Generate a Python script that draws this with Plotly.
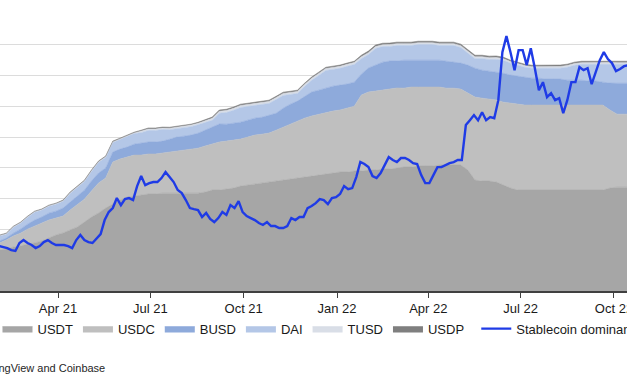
import pandas as pd
import plotly.graph_objects as go

# ---------------- data ----------------
area_start = "2021-02-02"   # weekly observations
line_start = "2021-02-02"   # every 4 days

usdt = [26.6, 27.3, 28.6, 29.2, 30.5, 31.2, 32.5, 34.4, 36.4, 37.7,
        39.6, 41.6, 44.8, 48.1, 50.7, 53.9, 56.5, 59.1, 61.0, 61.7,
        62.3, 63.0, 63.0, 63.6, 63.6, 63.6, 63.6, 63.6, 63.6, 64.3,
        65.6, 65.6, 66.2, 66.9, 68.2, 68.8, 69.5, 70.1, 70.8, 71.4,
        72.1, 72.7, 73.4, 74.0, 74.7, 75.3, 76.0, 76.6, 77.3, 77.3,
        77.9, 77.9, 78.6, 78.6, 79.2, 79.2, 79.9, 80.5, 80.5, 81.2,
        81.2, 81.2, 81.8, 81.8, 81.8, 81.8, 78.6, 72.1, 71.4, 71.4,
        70.8, 68.8, 66.9, 65.6, 65.6, 65.6, 65.6, 65.6, 65.6, 65.6,
        65.6, 65.6, 65.6, 65.6, 65.6, 65.6, 66.9, 67.5, 67.5, 67.5]

usdc = [4.5, 5.8, 7.1, 8.4, 9.7, 11.0, 11.7, 11.7, 11.0, 11.0,
        13.0, 14.3, 14.9, 16.9, 19.5, 19.5, 27.3, 26.6, 26.0, 26.6,
        26.0, 26.0, 26.0, 26.0, 26.6, 27.3, 27.9, 28.6, 29.2, 29.9,
        29.9, 31.2, 31.2, 31.2, 30.5, 31.2, 31.8, 31.8, 31.8, 33.1,
        34.4, 35.7, 37.0, 38.3, 39.0, 39.6, 39.6, 40.3, 40.3, 41.6,
        42.2, 49.4, 50.7, 51.3, 51.3, 52.0, 52.0, 51.3, 52.0, 51.3,
        51.3, 51.3, 50.7, 50.0, 50.0, 49.4, 50.0, 53.9, 53.9, 53.3,
        53.3, 53.9, 55.2, 55.8, 55.2, 55.2, 55.2, 55.2, 55.2, 55.2,
        55.2, 55.2, 55.2, 55.2, 55.2, 55.2, 50.7, 47.4, 47.4, 47.4]

busd = [1.3, 1.3, 1.9, 2.6, 3.2, 3.9, 3.9, 4.5, 4.5, 5.2,
        5.2, 5.8, 5.8, 6.5, 6.5, 6.5, 6.5, 6.5, 6.5, 7.1,
        7.8, 7.8, 7.8, 7.8, 8.4, 9.1, 9.1, 9.1, 9.7, 10.4,
        11.0, 11.7, 11.0, 11.0, 11.0, 11.0, 11.0, 11.0, 11.7, 11.0,
        12.3, 13.0, 13.0, 14.3, 15.6, 15.6, 16.2, 16.2, 16.2, 15.6,
        15.6, 13.6, 15.6, 16.9, 18.2, 18.2, 17.5, 18.2, 17.5, 17.5,
        17.5, 17.5, 17.5, 17.5, 16.9, 16.9, 18.2, 18.8, 18.2, 18.2,
        18.2, 18.8, 18.2, 18.2, 18.2, 17.5, 17.5, 16.9, 16.9, 16.9,
        16.2, 16.2, 16.2, 15.6, 15.6, 14.9, 17.5, 20.1, 20.1, 20.1]

dai = [3.2, 2.5, 3.8, 3.8, 4.5, 5.1, 4.5, 4.5, 4.5, 4.5,
       5.6, 5.6, 5.6, 6.2, 6.9, 6.9, 6.2, 6.2, 6.9, 6.9,
       6.8, 7.5, 7.5, 7.5, 6.2, 5.5, 5.5, 5.5, 5.5, 4.9,
       4.4, 7.0, 7.6, 8.3, 9.6, 8.9, 8.3, 8.3, 7.6, 8.9,
       8.3, 6.3, 5.0, 6.3, 7.6, 9.6, 11.5, 10.9, 10.9, 11.5,
       11.5, 10.1, 8.8, 10.8, 10.1, 9.5, 10.1, 9.5, 9.5, 10.1,
       10.1, 10.1, 9.5, 10.1, 10.8, 10.1, 7.5, 6.2, 7.5, 7.5,
       8.2, 8.4, 7.7, 7.1, 6.4, 6.4, 6.4, 7.1, 7.1, 7.1,
       8.4, 9.7, 10.3, 11.0, 11.0, 11.6, 12.3, 12.3, 12.3, 12.3]

tusd = [0.3, 0.3, 0.3, 0.3, 0.3, 0.3, 0.3, 0.3, 0.3, 0.3,
        0.4, 0.4, 0.4, 0.4, 0.4, 0.4, 0.4, 0.4, 0.4, 0.4,
        1.0, 1.0, 1.0, 1.0, 1.0, 1.0, 1.0, 1.0, 1.0, 1.0,
        1.3, 1.3, 1.3, 1.3, 1.3, 1.3, 1.3, 1.3, 1.3, 1.3,
        1.3, 1.3, 1.3, 1.3, 1.3, 1.3, 1.3, 1.3, 1.3, 1.3,
        1.3, 1.2, 1.2, 1.2, 1.2, 1.2, 1.2, 1.2, 1.2, 1.2,
        1.2, 1.2, 1.2, 1.2, 1.2, 1.2, 1.2, 1.2, 1.2, 1.2,
        1.2, 1.1, 1.1, 1.1, 1.1, 1.1, 1.1, 1.1, 1.1, 1.1,
        1.1, 1.1, 1.1, 1.1, 1.1, 1.1, 1.1, 1.1, 1.1, 1.1]

usdp = [0.4, 0.4, 0.4, 0.4, 0.4, 0.4, 0.4, 0.4, 0.4, 0.4,
        0.5, 0.5, 0.5, 0.5, 0.5, 0.5, 0.5, 0.5, 0.5, 0.5,
        0.6, 0.6, 0.6, 0.6, 0.6, 0.6, 0.6, 0.6, 0.6, 0.6,
        0.8, 0.8, 0.8, 0.8, 0.8, 0.8, 0.8, 0.8, 0.8, 0.8,
        0.8, 0.8, 0.8, 0.8, 0.8, 0.8, 0.8, 0.8, 0.8, 0.8,
        0.8, 1.0, 1.0, 1.0, 1.0, 1.0, 1.0, 1.0, 1.0, 1.0,
        1.0, 1.0, 1.0, 1.0, 1.0, 1.0, 1.0, 1.0, 1.0, 1.0,
        1.0, 0.9, 0.9, 0.9, 0.9, 0.9, 0.9, 0.9, 0.9, 0.9,
        0.9, 0.9, 0.9, 0.9, 0.9, 0.9, 0.9, 0.9, 0.9, 0.9]

dominance = [2.92, 2.86, 2.79, 2.66, 2.60, 3.12, 3.31, 3.12, 2.99, 2.79,
             2.92, 3.18, 3.31, 3.12, 2.99, 2.99, 2.99, 2.92, 2.79, 3.31,
             3.64, 3.31, 3.18, 3.12, 3.38, 3.70, 4.61, 5.13, 5.39, 6.04,
             5.58, 5.97, 6.04, 5.91, 6.82, 7.47, 6.88, 7.01, 7.08, 7.08,
             7.34, 7.73, 7.40, 7.08, 6.56, 6.36, 5.91, 5.39, 5.32, 5.26,
             4.81, 5.07, 4.68, 4.48, 4.74, 5.13, 4.94, 5.58, 5.39, 5.84,
             5.13, 4.87, 4.74, 4.61, 4.42, 4.29, 4.48, 4.22, 4.22, 4.09,
             4.09, 4.22, 4.74, 4.61, 4.81, 4.81, 5.39, 5.52, 5.71, 5.97,
             5.91, 5.65, 6.04, 6.10, 6.30, 6.82, 6.62, 6.69, 7.40, 8.38,
             8.25, 8.05, 7.47, 7.34, 7.66, 8.18, 8.70, 8.51, 8.38, 8.64,
             8.64, 8.51, 8.31, 8.25, 7.53, 7.01, 7.01, 7.53, 8.05, 8.05,
             8.18, 8.31, 8.38, 8.51, 8.51, 10.78, 11.10, 11.43, 11.10, 11.62,
             11.10, 11.30, 11.23, 12.40, 15.52, 16.56, 15.52, 14.35, 15.65, 15.65,
             14.68, 15.78, 14.48, 13.05, 13.57, 12.60, 12.86, 12.40, 12.53, 11.56,
             12.40, 13.57, 13.57, 14.55, 14.35, 14.48, 13.44, 14.22, 15.00, 15.52,
             15.07, 14.81, 14.29, 14.42, 14.61, 14.68]

tick_vals = ["2021-04-01", "2021-07-01", "2021-10-01", "2022-01-01",
             "2022-04-01", "2022-07-01", "2022-10-01"]
tick_text = ["Apr 21", "Jul 21", "Oct 21", "Jan 22", "Apr 22", "Jul 22", "Oct 22"]

series_names = ["USDT", "USDC", "BUSD", "DAI", "TUSD", "USDP"]
series_values = [usdt, usdc, busd, dai, tusd, usdp]
series_colors = ["#a6a6a6", "#bfbfbf", "#8eaadb", "#b4c7e7", "#d9dee7", "#7f7f7f"]

area_dates = pd.date_range(area_start, periods=len(usdt), freq="7D")
line_dates = pd.date_range(line_start, periods=len(dominance), freq="4D")

# ---------------- figure ----------------
fig = go.Figure()
for name, vals, col in zip(series_names, series_values, series_colors):
    fig.add_trace(go.Scatter(
        x=area_dates, y=vals, name=name, stackgroup="one",
        mode="lines", line=dict(width=0.6, color=col),
        fillcolor=col, hoverinfo="skip", legend="legend"))

fig.add_trace(go.Scatter(
    x=line_dates, y=dominance, name="Stablecoin dominance", yaxis="y2",
    mode="lines", line=dict(color="#1f3be6", width=2.4), legend="legend2"))

font_family = "Arial, Liberation Sans, sans-serif"
legend_common = dict(orientation="h", yanchor="middle", y=-0.136,
                     font=dict(family=font_family, size=13, color="#1a1a1a"),
                     traceorder="normal", bgcolor="rgba(0,0,0,0)")
fig.update_layout(
    width=627, height=376,
    margin=dict(l=0, r=0, t=14, b=85, autoexpand=False),
    paper_bgcolor="white", plot_bgcolor="white",
    font=dict(family=font_family, size=13, color="#1a1a1a"),
    showlegend=True,
    legend=dict(x=-0.004, xanchor="left", **legend_common),
    legend2=dict(x=0.7596, xanchor="left", **legend_common),
    xaxis=dict(type="date", range=["2021-02-02 20:00", "2022-10-13 20:00"],
               tickmode="array", tickvals=tick_vals, ticktext=tick_text,
               ticklabeloverflow="allow",
               showgrid=False, showline=True, linecolor="#404040", linewidth=1.5,
               ticks="outside", ticklen=5, tickcolor="#404040", tickwidth=1,
               tickfont=dict(size=13, color="#1a1a1a"), zeroline=False),
    yaxis=dict(range=[0, 180], dtick=20, showgrid=True, gridcolor="#dcdcdc", gridwidth=1,
               showticklabels=False, zeroline=False, ticks=""),
    yaxis2=dict(range=[0, 18], overlaying="y", side="right", showgrid=False,
                showticklabels=False, zeroline=False, ticks=""),
    annotations=[dict(text="Source: TradingView and Coinbase", xref="paper", yref="paper",
                      x=0.1707, xanchor="right", y=-0.278, yanchor="middle",
                      showarrow=False, font=dict(size=11, color="#262626"))],
)

fig.write_html("out.html", config={"displayModeBar": False},
               post_script="document.body.style.margin='0px';document.body.style.overflow='hidden';")
